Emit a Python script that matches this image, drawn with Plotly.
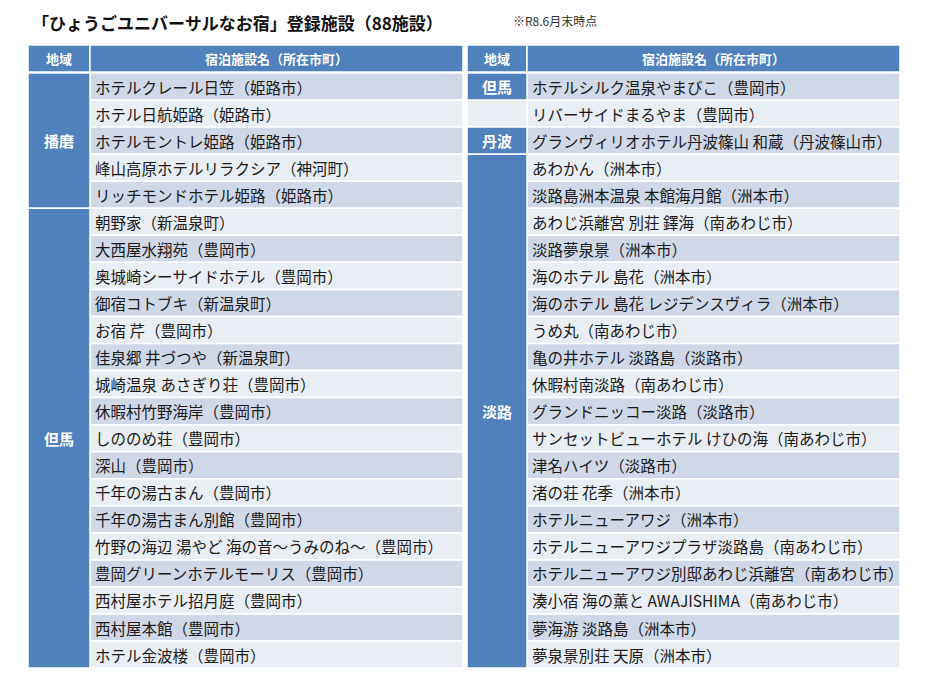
import plotly.graph_objects as go

title = "「ひょうごユニバーサルなお宿」登録施設（88施設）"
note = "※R8.6月末時点"
headers = ["地域", "宿泊施設名（所在市町）"]

left_names = [
    "ホテルクレール日笠（姫路市）", "ホテル日航姫路（姫路市）", "ホテルモントレ姫路（姫路市）",
    "峰山高原ホテルリラクシア（神河町）", "リッチモンドホテル姫路（姫路市）",
    "朝野家（新温泉町）", "大西屋水翔苑（豊岡市）", "奥城崎シーサイドホテル（豊岡市）",
    "御宿コトブキ（新温泉町）", "お宿 芹（豊岡市）", "佳泉郷 井づつや（新温泉町）",
    "城崎温泉 あさぎり荘（豊岡市）", "休暇村竹野海岸（豊岡市）", "しののめ荘（豊岡市）",
    "深山（豊岡市）", "千年の湯古まん（豊岡市）", "千年の湯古まん別館（豊岡市）",
    "竹野の海辺 湯やど 海の音～うみのね～（豊岡市）", "豊岡グリーンホテルモーリス（豊岡市）",
    "西村屋ホテル招月庭（豊岡市）", "西村屋本館（豊岡市）", "ホテル金波楼（豊岡市）",
]
right_names = [
    "ホテルシルク温泉やまびこ（豊岡市）", "リバーサイドまるやま（豊岡市）",
    "グランヴィリオホテル丹波篠山 和蔵（丹波篠山市）", "あわかん（洲本市）",
    "淡路島洲本温泉 本館海月館（洲本市）", "あわじ浜離宮 別荘 鐸海（南あわじ市）",
    "淡路夢泉景（洲本市）", "海のホテル 島花（洲本市）", "海のホテル 島花 レジデンスヴィラ（洲本市）",
    "うめ丸（南あわじ市）", "亀の井ホテル 淡路島（淡路市）", "休暇村南淡路（南あわじ市）",
    "グランドニッコー淡路（淡路市）", "サンセットビューホテル けひの海（南あわじ市）",
    "津名ハイツ（淡路市）", "渚の荘 花季（洲本市）", "ホテルニューアワジ（洲本市）",
    "ホテルニューアワジプラザ淡路島（南あわじ市）", "ホテルニューアワジ別邸あわじ浜離宮（南あわじ市）",
    "湊小宿 海の薫と AWAJISHIMA（南あわじ市）", "夢海游 淡路島（洲本市）", "夢泉景別荘 天原（洲本市）",
]
# (label, first row, last row)
left_regions = [("播磨", 0, 4), ("但馬", 5, 21)]
right_regions = [("但馬", 0, 0), ("丹波", 2, 2), ("淡路", 3, 21)]

BLUE = "#4f81bd"
DARK = "#d0d8e8"
LIGHT = "#e9edf4"
FONT = "Noto Sans CJK JP"
top, hh, rh = 45, 27, 27.05

fig = go.Figure()
shapes, annos = [], []

def rect(x0, x1, y0, y1, color):
    shapes.append(dict(type="rect", xref="x", yref="y", x0=x0, x1=x1, y0=y0, y1=y1,
                       fillcolor=color, line=dict(color="white", width=1.5), layer="below"))

def draw_table(x0, xm, x1, names, regions):
    rect(x0, xm, top, top + hh, BLUE)
    rect(xm, x1, top, top + hh, BLUE)
    annos.append(dict(x=(x0 + xm) / 2, y=top + hh / 2, text="<b>%s</b>" % headers[0],
                      font=dict(color="white", size=13)))
    annos.append(dict(x=(xm + x1) / 2, y=top + hh / 2, text="<b>%s</b>" % headers[1],
                      font=dict(color="white", size=13)))
    y0 = top + hh + 1
    for i, n in enumerate(names):
        ya = y0 + i * rh
        rect(xm, x1, ya, ya + rh, DARK if i % 2 == 0 else LIGHT)
        rect(x0, xm, ya, ya + rh, LIGHT)
        annos.append(dict(x=xm + 3, y=ya + rh / 2, text=n, xanchor="left",
                          font=dict(color="#1a1a1a", size=15.5)))
    for lab, a, b in regions:
        ya, yb = y0 + a * rh, y0 + (b + 1) * rh
        rect(x0, xm, ya, yb, BLUE)
        annos.append(dict(x=(x0 + xm) / 2, y=(ya + yb) / 2, text="<b>%s</b>" % lab,
                          font=dict(color="white", size=15)))

draw_table(28, 90, 463, left_names, left_regions)
draw_table(467, 527, 900, right_names, right_regions)

annos.append(dict(x=30, y=22, text="<b>%s</b>" % title, xanchor="left",
                  font=dict(color="#111", size=17)))
annos.append(dict(x=511, y=20, text=note, xanchor="left", font=dict(color="#333", size=12)))
for a in annos:
    a.update(xref="x", yref="y", showarrow=False)

# page body has an 8px margin, so the figure is 16px smaller and the axes start at 8
fig.update_layout(
    width=914, height=680, margin=dict(l=0, r=0, t=0, b=0),
    paper_bgcolor="white", plot_bgcolor="white", font=dict(family=FONT),
    xaxis=dict(range=[8, 922], visible=False, fixedrange=True),
    yaxis=dict(range=[688, 8], visible=False, fixedrange=True),
    shapes=shapes, annotations=annos, showlegend=False,
)
fig.write_html("out.html")
